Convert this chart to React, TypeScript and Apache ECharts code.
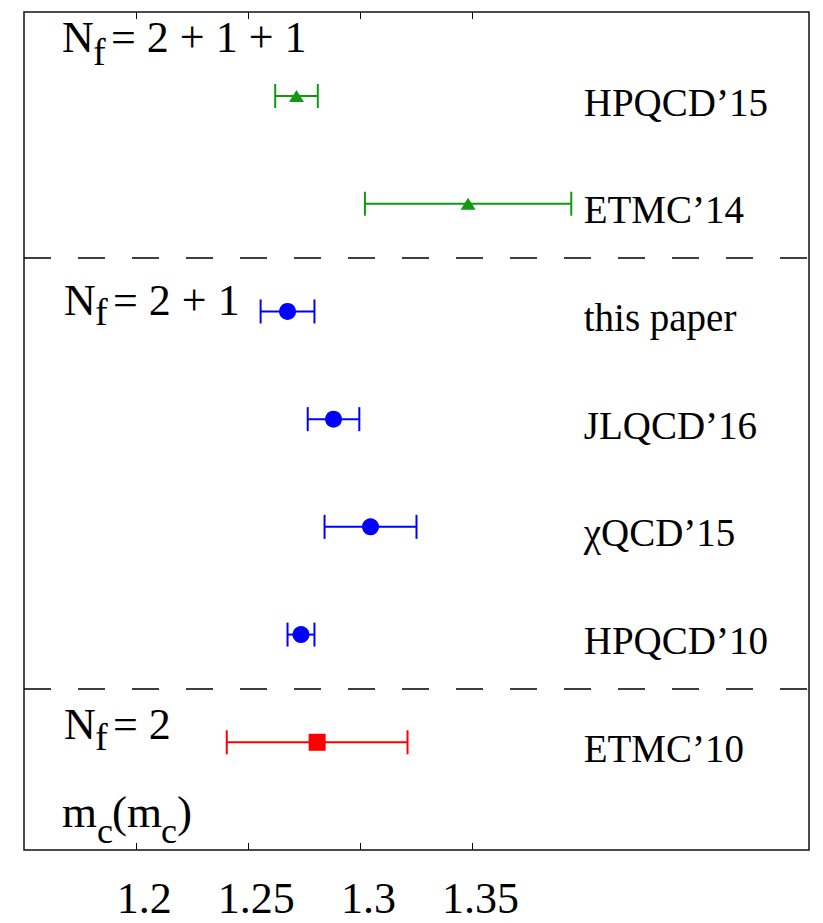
import React, { useEffect, useRef } from "react";
import * as echarts from "echarts";

// ---- data ----
const labels = ["HPQCD’15", "ETMC’14", "this paper", "JLQCD’16", "χQCD’15", "HPQCD’10", "ETMC’10"];
const centres = [1.2715, 1.348, 1.2675, 1.288, 1.3045, 1.2735, 1.2807];
const errors = [0.0095, 0.046, 0.012, 0.0115, 0.0205, 0.006, 0.0403];
const rows = [7, 6, 5, 4, 3, 2, 1];
const flavours = ["2+1+1", "2+1+1", "2+1", "2+1", "2+1", "2+1", "2"];
const separators = [5.5, 1.5];
const tickValues = [1.2, 1.25, 1.3, 1.35];
const xMin = 1.15;
const xMax = 1.5;
const yMin = 0;
const yMax = 7.78;
const labelX = 1.4;
const flavourOrder = ["2+1+1", "2+1", "2"];

// ---- styles ----
const FONT = "Liberation Serif";
const flavourStyle: Record<string, any> = {
  "2+1+1": { color: "#129912", symbol: "triangle", size: [15, 12] },
  "2+1": { color: "#0000ff", symbol: "circle", size: 17 },
  "2": { color: "#ff0000", symbol: "rect", size: 17 },
};

function makeErrorSeries(fl: string) {
  const color = flavourStyle[fl].color;
  const data = rows
    .map((r, i) => ({ r, i }))
    .filter(({ i }) => flavours[i] === fl)
    .map(({ r, i }) => [centres[i] - errors[i], centres[i] + errors[i], r]);
  return {
    type: "custom",
    z: 2,
    encode: { x: [0, 1], y: 2 },
    data,
    renderItem: (params: any, api: any) => {
      const y = api.value(2);
      const lo = api.coord([api.value(0), y]);
      const hi = api.coord([api.value(1), y]);
      const h = 12;
      const style = { stroke: color, lineWidth: 2, fill: null };
      return {
        type: "group",
        children: [
          { type: "line", shape: { x1: lo[0], y1: lo[1], x2: hi[0], y2: hi[1] }, style },
          { type: "line", shape: { x1: lo[0], y1: lo[1] - h, x2: lo[0], y2: lo[1] + h }, style },
          { type: "line", shape: { x1: hi[0], y1: hi[1] - h, x2: hi[0], y2: hi[1] + h }, style },
        ],
      };
    },
  };
}

function makeMarkerSeries(fl: string) {
  const st = flavourStyle[fl];
  const data = rows
    .map((r, i) => ({ r, i }))
    .filter(({ i }) => flavours[i] === fl)
    .map(({ r, i }) => [centres[i], r]);
  return {
    type: "scatter",
    z: 3,
    data,
    symbol: st.symbol,
    symbolSize: st.size,
    itemStyle: { color: st.color, opacity: 1 },
  };
}

function textEl(text: string, x: number, y: number, size: number) {
  return {
    type: "text",
    x,
    y,
    style: {
      text,
      fontSize: size,
      fontFamily: FONT,
      fill: "#000",
      align: "left",
      verticalAlign: "middle",
    },
  };
}

export default function App() {
  const ref = useRef<HTMLDivElement>(null);

  useEffect(() => {
    document.body.style.margin = "0";
    const chart = echarts.init(ref.current!, null, { renderer: "svg" });

    const series: any[] = [];
    flavourOrder.forEach((fl) => {
      series.push(makeErrorSeries(fl));
      series.push(makeMarkerSeries(fl));
    });

    // dashed separators
    series.push({
      type: "scatter",
      data: [],
      markLine: {
        silent: true,
        symbol: "none",
        label: { show: false },
        lineStyle: { color: "#000", type: [27, 27], width: 1.5 },
        data: separators.map((v) => ({ yAxis: v })),
      },
    });

    // right-hand labels
    series.push({
      type: "custom",
      z: 4,
      encode: { x: 0, y: 1 },
      data: rows.map((r) => [labelX, r]),
      renderItem: (params: any, api: any) => {
        const p = api.coord([api.value(0), api.value(1)]);
        return {
          type: "text",
          x: p[0] - 1,
          y: p[1] + 6,
          style: {
            text: labels[params.dataIndex],
            fontSize: 39,
            fontFamily: FONT,
            fill: "#000",
            align: "left",
            verticalAlign: "middle",
          },
        };
      },
    });

    const graphic = [
      // N_f = 2 + 1 + 1
      textEl("N", 62, 37, 44),
      textEl("f", 93, 52, 38),
      textEl("= 2 + 1 + 1", 111, 37, 44),
      // N_f = 2 + 1
      textEl("N", 64, 300, 44),
      textEl("f", 95, 312, 38),
      textEl("= 2 + 1", 113, 300, 44),
      // N_f = 2
      textEl("N", 64, 724, 44),
      textEl("f", 95, 737, 38),
      textEl("= 2", 113, 724, 44),
      // m_c(m_c)
      textEl("m", 62, 812, 45),
      textEl("c", 97, 831, 36),
      textEl("(m", 112, 812, 45),
      textEl("c", 161, 831, 36),
      textEl(")", 177, 812, 45),
    ];

    const option: any = {
      animation: false,
      backgroundColor: "#fff",
      grid: {
        left: 24,
        right: 14,
        top: 12,
        bottom: 73,
        show: true,
        borderColor: "#111",
        borderWidth: 1.5,
        backgroundColor: "transparent",
      },
      xAxis: [
        {
          type: "value",
          min: xMin,
          max: xMax,
          interval: 0.05,
          position: "bottom",
          axisLine: { show: false },
          splitLine: { show: false },
          axisTick: {
            show: true,
            inside: true,
            length: 7,
            customValues: tickValues,
            lineStyle: { color: "#000", width: 1 },
          },
          axisLabel: {
            show: true,
            customValues: tickValues,
            fontSize: 44,
            lineHeight: 38,
            fontFamily: FONT,
            color: "#000",
            margin: 29,
            padding: [0, 0, 0, 16],
          },
        },
        {
          type: "value",
          min: xMin,
          max: xMax,
          interval: 0.05,
          position: "top",
          axisLine: { show: false },
          splitLine: { show: false },
          axisTick: {
            show: true,
            inside: true,
            length: 7,
            customValues: tickValues,
            lineStyle: { color: "#000", width: 1 },
          },
          axisLabel: { show: false },
        },
      ],
      yAxis: {
        type: "value",
        min: yMin,
        max: yMax,
        show: false,
        splitLine: { show: false },
      },
      series,
      graphic,
    };

    chart.setOption(option);
    return () => chart.dispose();
  }, []);

  return <div ref={ref} style={{ width: 823, height: 923 }} />;
}
